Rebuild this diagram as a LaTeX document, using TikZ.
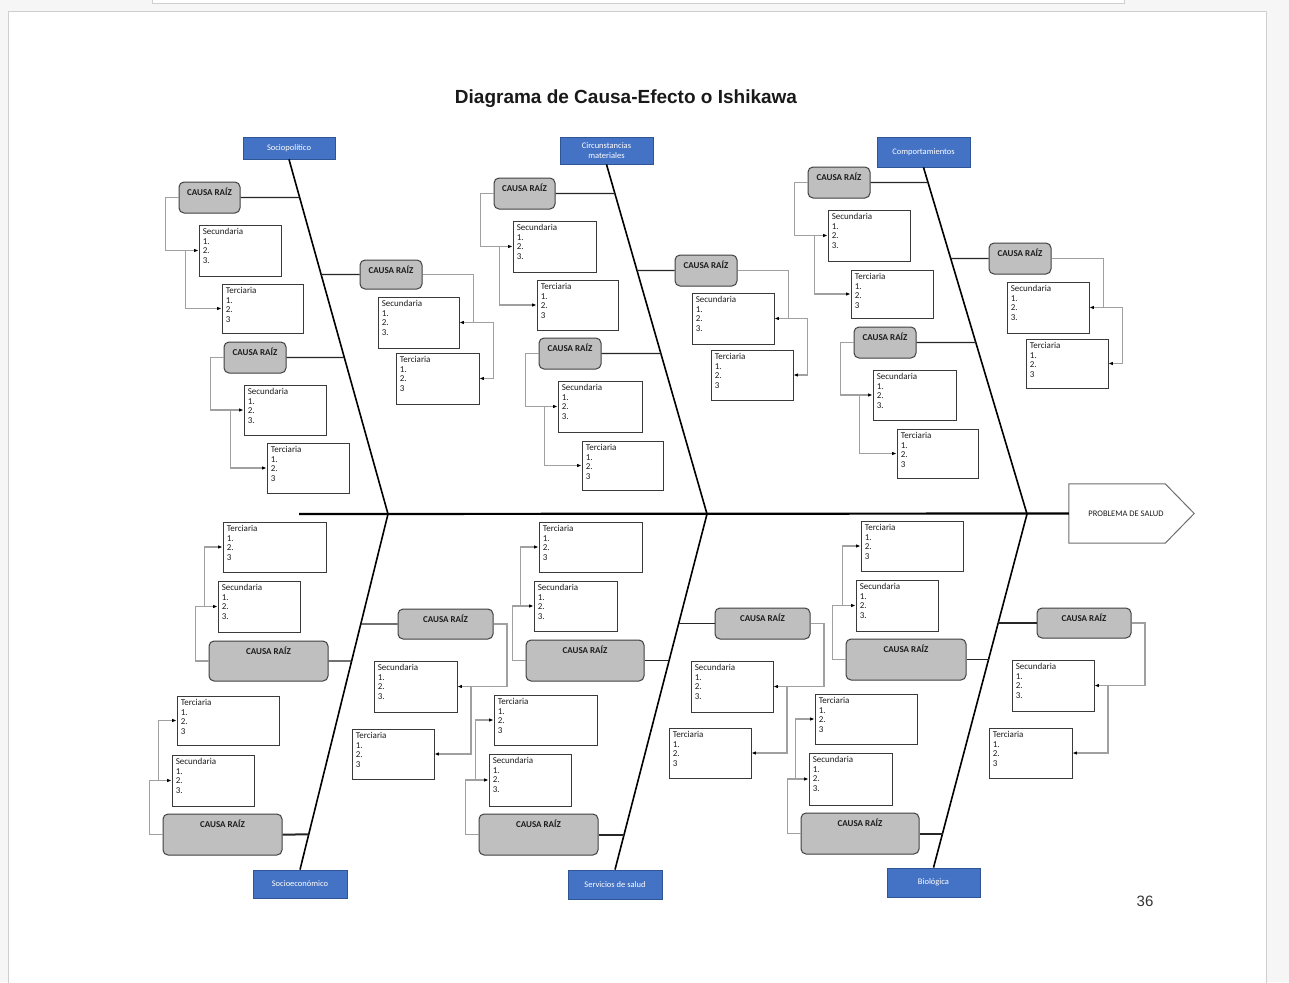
\documentclass[tikz,border=0pt]{standalone}
\usepackage{fontspec}
\setmainfont{Carlito}
\newfontfamily\titlefont{Liberation Sans}
\usetikzlibrary{arrows.meta,calc}
\definecolor{bgc}{HTML}{F6F6F6}
\definecolor{pagec}{HTML}{CFCFCF}
\definecolor{labfill}{HTML}{4472C4}
\definecolor{labdraw}{HTML}{2F5597}
\definecolor{crfill}{HTML}{BFBFBF}
\definecolor{crdraw}{HTML}{404040}
\definecolor{tbdraw}{HTML}{3A3A3A}
\definecolor{connc}{HTML}{A0A0A0}
\definecolor{txtc}{HTML}{1C1C1C}
\definecolor{headc}{HTML}{6E6E6E}
\tikzset{
  tb/.style={draw=tbdraw, line width=0.9pt, fill=white, inner sep=0pt},
  tbtxt/.style={anchor=north west, inner sep=0pt, align=left, font=\fontsize{9}{9.8}\selectfont, text=txtc},
  cr/.style={draw=crdraw, line width=1pt, fill=crfill, rounded corners=5pt, inner sep=0pt},
  crtxt/.style={inner sep=0pt, font=\fontsize{9}{10}\selectfont\bfseries, text=txtc},
  lab/.style={draw=labdraw, line width=0.8pt, fill=labfill, inner sep=0pt, text=white, align=center, font=\fontsize{8.5}{10}\selectfont},
  conn/.style={draw=connc, line width=1.1pt, -{Latex[length=4.5pt,width=3.6pt,color=black]}},
  rib/.style={draw=black!85, line width=1.2pt},
  ribthick/.style={draw=black!85, line width=2pt},
  bone/.style={draw=black, line width=1.6pt},
  spine/.style={draw=black, line width=2.2pt}
}
\newcommand\tbx[7]{%
  \pgfmathsetmacro\bw{#4-#2}\pgfmathsetmacro\bh{#5-#3}%
  \pgfmathsetmacro\bx{(#2+#4)/2}\pgfmathsetmacro\by{(#3+#5)/2}%
  \node[tb, minimum width=\bw pt, minimum height=\bh pt] (#1) at (\bx,\by) {};
  \node[tbtxt] (#1-t) at ([xshift=4pt,yshift=-3.3pt]#1.north west) {#6\\1.\\2.\\#7};
}
\newcommand\secbox[5]{\tbx{#1}{#2}{#3}{#4}{#5}{Secundaria}{3.}}
\newcommand\terbox[5]{\tbx{#1}{#2}{#3}{#4}{#5}{Terciaria}{3}}
\newcommand\crbox[5]{%
  \pgfmathsetmacro\bw{#4-#2}\pgfmathsetmacro\bh{#5-#3}%
  \pgfmathsetmacro\bx{(#2+#4)/2}\pgfmathsetmacro\by{(#3+#5)/2}%
  \node[cr, minimum width=\bw pt, minimum height=\bh pt] (#1) at (\bx,\by) {};
  \node[crtxt] (#1-t) at ([yshift=-10pt]#1.north) {CAUSA RAÍZ};
}
\newcommand\labbox[6]{%
  \pgfmathsetmacro\bw{#4-#2}\pgfmathsetmacro\bh{#5-#3}%
  \pgfmathsetmacro\bx{(#2+#4)/2}\pgfmathsetmacro\by{(#3+#5)/2}%
  \node[lab, minimum width=\bw pt, minimum height=\bh pt] (#1) at (\bx,\by) {#6};
}
% left-side connector (boxes to the right of a CR, fed from CR's left)
\newcommand\leftconn[3]{%
  \draw[conn] (#1.west) -- ++(-13,0) |- (#2.west);
  \draw[conn] ([xshift=-13.5pt]#2.west) |- (#3.west);
}
% right-side connector, top half
\newcommand\rightconntop[3]{%
  \draw[conn] (#1.east) -| ([xshift=14pt]#2.east) -- (#2.east);
  \draw[conn] ([xshift=14pt]#2.east) -| ([xshift=14pt]#3.east) -- (#3.east);
}
% right-side connector, bottom half
\newcommand\rightconnbot[3]{%
  \draw[conn] (#1.east) -- ++(13.5,0) |- (#2.east);
  \draw[conn] ([xshift=13.5pt]#2.east) |- (#3.east);
}
\begin{document}
\begin{tikzpicture}[x=1pt,y=-1pt]
\useasboundingbox (0,0) rectangle (1289,982);
\fill[bgc] (0,0) rectangle (1289,982);
\fill[white] (152,-5) rectangle (1124,3.5);
\draw[pagec, line width=0.8pt] (152,-5) |- (1124,3.5) -- (1124,-5);
\fill[white] (8,11.5) rectangle (1266.5,990);
\draw[pagec, line width=0.8pt] (8,990) -- (8,11.5) -- (1266.5,11.5) -- (1266.5,990);

% title and page number
\node[anchor=base, inner sep=0pt, font=\titlefont\bfseries\fontsize{19}{22}\selectfont, text=black!90] (title) at (626,103) {Diagrama de Causa-Efecto o Ishikawa};
\node[anchor=base, inner sep=0pt, font=\titlefont\fontsize{15}{18}\selectfont, text=black!80] (pnum) at (1145,906) {36};

% category labels
\labbox{LA}{243}{137}{335}{159}{Sociopolítico}
\labbox{LB}{560}{137}{653}{164}{Circunstancias\\materiales}
\labbox{LC}{877}{137}{970}{167}{Comportamientos}
\labbox{LD}{253}{870}{347}{898}{Socioeconómico}
\labbox{LE}{568}{870}{662}{899}{Servicios de salud}
\labbox{LF}{887}{868}{980}{897}{Biológica}

% head
\node[inner sep=0pt, minimum width=125pt, minimum height=59pt] (head) at (1131.5,513.5) {};
\draw[headc, line width=1pt, fill=white] (head.north west) -- ([xshift=-29pt]head.north east) -- (head.east) -- ([xshift=-29pt]head.south east) -- (head.south west) -- cycle;
\node[inner sep=0pt, font=\fontsize{8.5}{10}\selectfont, text=txtc] (headtxt) at (1126,514) {PROBLEMA DE SALUD};

% spine and bones
\coordinate (sp0) at (299,514);
\coordinate (jA) at (388,514);
\coordinate (jB) at (707,514);
\coordinate (jC) at (1027,514);
\draw[spine] (sp0) -- (head.west);
\draw[bone] (LA.south) -- (jA) -- (LD.north);
\draw[bone] (LB.south) -- (jB) -- (LE.north);
\draw[bone] (LC.south) -- (jC) -- (LF.north);

% ---------- group A (Sociopolitico)
\crbox{crA1}{179}{182}{240}{213}
\secbox{sA1}{199}{225}{281}{276}
\terbox{tA1}{222}{284}{303}{333}
\crbox{crA2}{360}{260}{422}{289}
\secbox{sA2}{378}{297}{459}{348}
\terbox{tA2}{396}{353}{479}{404}
\crbox{crA3}{224}{342}{286}{373}
\secbox{sA3}{244}{385}{326}{435}
\terbox{tA3}{267}{443}{349}{493}
\leftconn{crA1}{sA1}{tA1}
\rightconntop{crA2}{sA2}{tA2}
\leftconn{crA3}{sA3}{tA3}
\draw[rib] (crA1.east) -- (intersection of crA1.west--crA1.east and LA.south--jA);
\draw[rib] (crA2.west) -- (intersection of crA2.west--crA2.east and LA.south--jA);
\draw[rib] (crA3.east) -- (intersection of crA3.west--crA3.east and LA.south--jA);

% ---------- group B (Circunstancias materiales)
\crbox{crB1}{494}{178}{555}{209}
\secbox{sB1}{513}{221}{596}{272}
\terbox{tB1}{537}{280}{618}{330}
\crbox{crB2}{675}{255}{737}{286}
\secbox{sB2}{692}{293}{774}{344}
\terbox{tB2}{711}{350}{793}{400}
\crbox{crB3}{539}{338}{601}{369}
\secbox{sB3}{558}{381}{642}{432}
\terbox{tB3}{582}{441}{663}{490}
\leftconn{crB1}{sB1}{tB1}
\rightconntop{crB2}{sB2}{tB2}
\leftconn{crB3}{sB3}{tB3}
\draw[rib] (crB1.east) -- (intersection of crB1.west--crB1.east and LB.south--jB);
\draw[rib] (crB2.west) -- (intersection of crB2.west--crB2.east and LB.south--jB);
\draw[rib] (crB3.east) -- (intersection of crB3.west--crB3.east and LB.south--jB);

% ---------- group C (Comportamientos)
\crbox{crC1}{808}{167}{870}{198}
\secbox{sC1}{828}{210}{910}{261}
\terbox{tC1}{851}{270}{933}{318}
\crbox{crC2}{989}{243}{1051}{274}
\secbox{sC2}{1007}{282}{1089}{333}
\terbox{tC2}{1026}{339}{1108}{388}
\crbox{crC3}{854}{327}{916}{358}
\secbox{sC3}{873}{370}{956}{420}
\terbox{tC3}{897}{429}{978}{478}
\leftconn{crC1}{sC1}{tC1}
\rightconntop{crC2}{sC2}{tC2}
\leftconn{crC3}{sC3}{tC3}
\draw[rib] (crC1.east) -- (intersection of crC1.west--crC1.east and LC.south--jC);
\draw[rib] (crC2.west) -- (intersection of crC2.west--crC2.east and LC.south--jC);
\draw[rib] (crC3.east) -- (intersection of crC3.west--crC3.east and LC.south--jC);

% ---------- group D (Socioeconomico)
\terbox{tD1}{223}{522}{326}{572}
\secbox{sD1}{218}{581}{300}{632}
\crbox{crD1}{209}{641}{328}{681}
\crbox{crD2}{398}{609}{493}{639}
\secbox{sD2}{374}{661}{457}{712}
\terbox{tD2}{352}{729}{434}{779}
\terbox{tD3}{177}{696}{279}{745}
\secbox{sD3}{172}{755}{254}{806}
\crbox{crD3}{163}{814}{282}{855}
\leftconn{crD1}{sD1}{tD1}
\rightconnbot{crD2}{sD2}{tD2}
\leftconn{crD3}{sD3}{tD3}
\draw[rib] (crD1.east) -- (intersection of crD1.west--crD1.east and jA--LD.north);
\draw[rib] (crD2.west) -- (intersection of crD2.west--crD2.east and jA--LD.north);
\draw[ribthick] (crD3.east) -- (intersection of crD3.west--crD3.east and jA--LD.north);

% ---------- group E (Servicios de salud)
\terbox{tE1}{539}{522}{642}{572}
\secbox{sE1}{534}{581}{617}{631}
\crbox{crE1}{526}{640}{644}{681}
\crbox{crE2}{715}{608}{810}{639}
\secbox{sE2}{691}{661}{773}{712}
\terbox{tE2}{669}{728}{751}{778}
\terbox{tE3}{494}{695}{597}{745}
\secbox{sE3}{489}{754}{571}{806}
\crbox{crE3}{479}{814}{598}{855}
\leftconn{crE1}{sE1}{tE1}
\rightconnbot{crE2}{sE2}{tE2}
\leftconn{crE3}{sE3}{tE3}
\draw[rib] (crE1.east) -- (intersection of crE1.west--crE1.east and jB--LE.north);
\draw[rib] (crE2.west) -- (intersection of crE2.west--crE2.east and jB--LE.north);
\draw[ribthick] (crE3.east) -- (intersection of crE3.west--crE3.east and jB--LE.north);

% ---------- group F (Biologica)
\terbox{tF1}{861}{521}{963}{571}
\secbox{sF1}{856}{580}{938}{631}
\crbox{crF1}{846}{639}{966}{680}
\crbox{crF2}{1037}{608}{1131}{638}
\secbox{sF2}{1012}{660}{1094}{711}
\terbox{tF2}{989}{728}{1072}{778}
\terbox{tF3}{815}{694}{917}{744}
\secbox{sF3}{809}{753}{892}{805}
\crbox{crF3}{801}{813}{919}{854}
\leftconn{crF1}{sF1}{tF1}
\rightconnbot{crF2}{sF2}{tF2}
\leftconn{crF3}{sF3}{tF3}
\draw[rib] (crF1.east) -- (intersection of crF1.west--crF1.east and jC--LF.north);
\draw[rib] (crF2.west) -- (intersection of crF2.west--crF2.east and jC--LF.north);
\draw[ribthick] (crF3.east) -- (intersection of crF3.west--crF3.east and jC--LF.north);
\end{tikzpicture}
\end{document}
